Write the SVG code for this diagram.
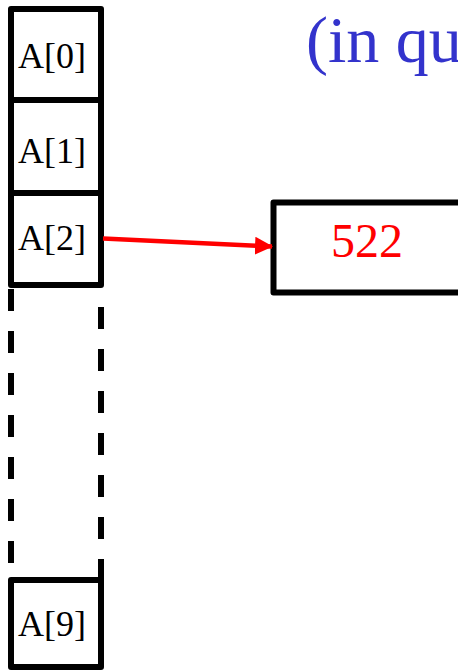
<svg xmlns="http://www.w3.org/2000/svg" width="458" height="670" viewBox="0 0 458 670">
  <defs>
    <style>
      .cell { fill: #ffffff; stroke: #000000; stroke-width: 6; stroke-linejoin: round; }
      .dash { stroke: #000000; stroke-width: 6; stroke-dasharray: 22 20; fill: none; }
      .lbl { font-family: "Liberation Serif", "Times New Roman", serif; font-size: 36px; fill: #000000; text-anchor: middle; }
      .val { font-family: "Liberation Serif", "Times New Roman", serif; font-size: 48px; fill: #ff0000; text-anchor: middle; }
      .title { font-family: "Liberation Serif", "Times New Roman", serif; font-size: 66px; fill: #3333cc; }
    </style>
    <marker id="arrowRed" markerWidth="18" markerHeight="18" refX="17" refY="9" orient="auto" markerUnits="userSpaceOnUse">
      <path d="M0,0 L18,9 L0,18 Z" fill="#ff0000"/>
    </marker>
  </defs>
  <rect width="458" height="670" fill="#ffffff"/>

  <text class="title" x="306" y="62">(in qu</text>

  <g id="cell-a0">
    <rect class="cell" x="11" y="9" width="90" height="91"/>
    <text class="lbl" x="52" y="68">A[0]</text>
  </g>
  <g id="cell-a1">
    <rect class="cell" x="11" y="100" width="90" height="93"/>
    <text class="lbl" x="52" y="163">A[1]</text>
  </g>
  <g id="cell-a2">
    <rect class="cell" x="11" y="193" width="90" height="92"/>
    <text class="lbl" x="52" y="250">A[2]</text>
  </g>
  <g id="cell-gap">
    <line class="dash" x1="11" y1="289" x2="11" y2="580"/>
    <line class="dash" x1="101" y1="307" x2="101" y2="580"/>
  </g>
  <g id="cell-a9">
    <rect class="cell" x="11" y="580" width="90" height="87"/>
    <text class="lbl" x="52" y="636">A[9]</text>
  </g>
  <g id="node-522">
    <rect class="cell" x="273.5" y="202.5" width="200" height="90"/>
    <text class="val" x="367" y="257">522</text>
  </g>

  <g id="connectors">
    <line x1="103" y1="238.5" x2="272" y2="246.5" stroke="#ff0000" stroke-width="4.5" marker-end="url(#arrowRed)"/>
  </g>
</svg>
